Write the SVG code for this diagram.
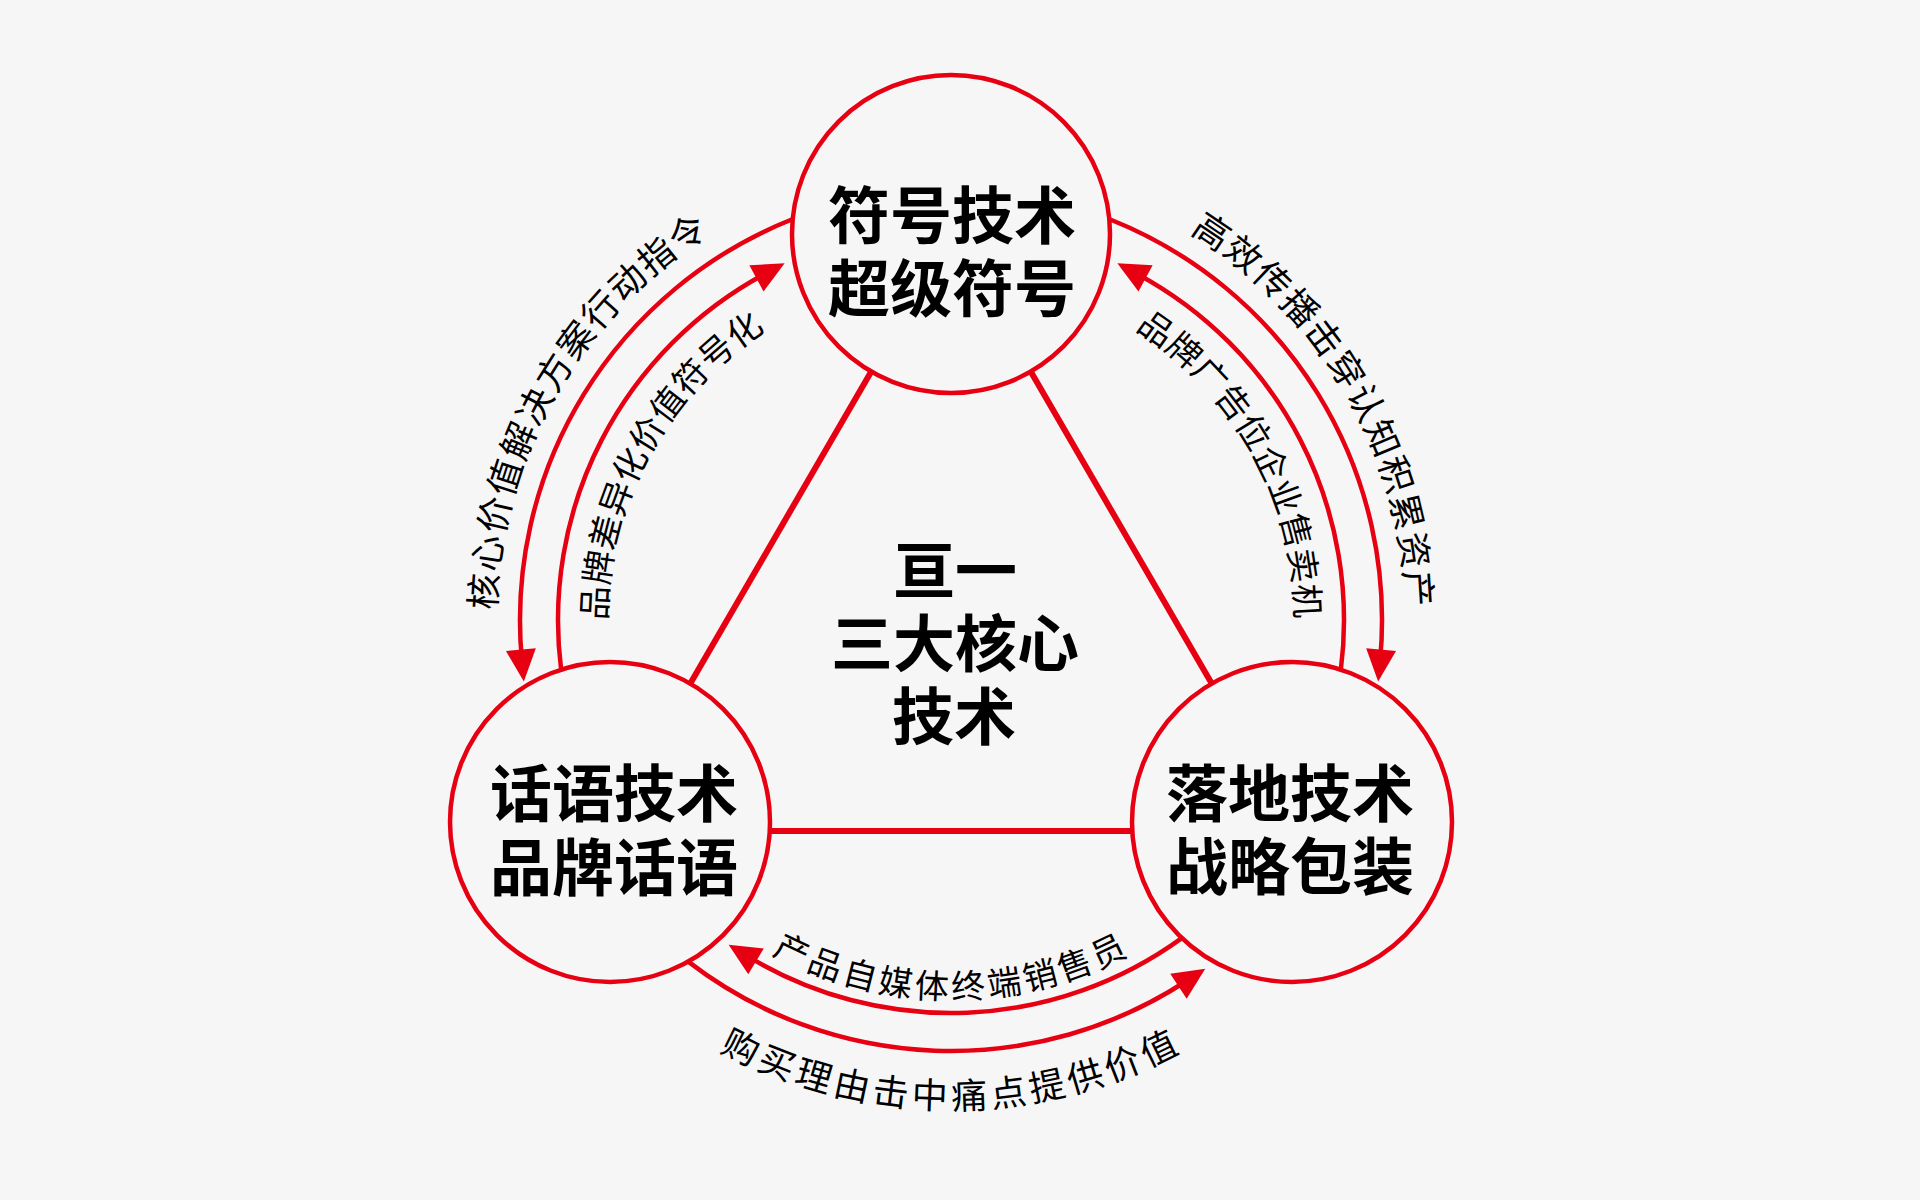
<svg xmlns="http://www.w3.org/2000/svg" width="1920" height="1200" viewBox="0 0 1920 1200">
<defs>
<style>
.bg{fill:#f7f6f7}
.node circle{fill:#f7f6f7;stroke:#e60012;stroke-width:4.5}
.title{font-family:"Noto Sans CJK SC","Noto Sans",sans-serif;font-weight:700;font-size:62px;fill:#000;text-anchor:middle;dominant-baseline:central}
.edge{fill:none;stroke:#e60012;stroke-width:6}
.arc{fill:none;stroke:#e60012;stroke-width:4.5;marker-end:url(#ah)}
.lbl{font-family:"Noto Sans CJK SC","Noto Sans",sans-serif;font-weight:400;fill:#000;dominant-baseline:central;text-anchor:middle}
.lo{font-size:36px;letter-spacing:3px}
.li{font-size:34px;letter-spacing:2px}
</style>
<marker id="ah" markerUnits="userSpaceOnUse" viewBox="0 0 32 30" markerWidth="32" markerHeight="30" refX="10" refY="15" orient="auto" overflow="visible">
<path d="M0,0 L32,15 L0,30 z" fill="#e60012"/>
</marker>
<path id="tOL" d="M496.48,743.49 A471,471 0 0 1 827.51,165.48"/>
<path id="tOR" d="M1074.49,165.48 A471,471 0 0 1 1405.52,743.49"/>
<path id="tIL" d="M606.26,720.16 A359,359 0 0 1 850.84,275.26"/>
<path id="tIR" d="M1051.16,275.26 A359,359 0 0 1 1295.74,720.16"/>
<path id="tIB" d="M693.61,877.39 A364,364 0 0 0 1208.39,877.39"/>
<path id="tOB" d="M616.54,954.46 A473,473 0 0 0 1285.46,954.46"/>
</defs>
<rect class="bg" x="0" y="0" width="1920" height="1200"/>

<g id="connectors">
<line class="edge" x1="870.7" y1="372.4" x2="690.3" y2="683.6"/>
<line class="edge" x1="1031.3" y1="372.4" x2="1211.7" y2="683.6"/>
<line class="edge" x1="768" y1="831" x2="1134" y2="831"/>
<path id="arc-outer-left" class="arc" d="M791.77,219.49 A431,431 0 0 0 521.82,659.63"/>
<path id="arc-inner-left" class="arc" d="M561.13,669.53 A393,393 0 0 1 765.26,273.66"/>
<path id="arc-outer-right" class="arc" d="M1110.23,219.49 A431,431 0 0 1 1380.18,659.63"/>
<path id="arc-inner-right" class="arc" d="M1340.87,669.53 A393,393 0 0 0 1136.74,273.66"/>
<path id="arc-outer-bottom" class="arc" d="M688.24,961.64 A431,431 0 0 0 1186.84,980.75"/>
<path id="arc-inner-bottom" class="arc" d="M1181.78,938.11 A393,393 0 0 1 747.47,956.19"/>
</g>

<g id="edge-labels">
<text class="lbl lo"><textPath href="#tOL" startOffset="50%">核心价值解决方案行动指令</textPath></text>
<text class="lbl li"><textPath href="#tIL" startOffset="50%">品牌差异化价值符号化</textPath></text>
<text class="lbl lo"><textPath href="#tOR" startOffset="50%">高效传播击穿认知积累资产</textPath></text>
<text class="lbl li"><textPath href="#tIR" startOffset="50%">品牌广告位企业售卖机</textPath></text>
<text class="lbl li"><textPath href="#tIB" startOffset="50%">产品自媒体终端销售员</textPath></text>
<text class="lbl lo"><textPath href="#tOB" startOffset="50%">购买理由击中痛点提供价值</textPath></text>
</g>

<g id="node-symbol" class="node">
<circle cx="951" cy="234" r="159"/>
<text class="title" x="952" y="212">符号技术</text>
<text class="title" x="952" y="285">超级符号</text>
</g>
<g id="node-speech" class="node">
<circle cx="610" cy="822" r="160"/>
<text class="title" x="614" y="790">话语技术</text>
<text class="title" x="614" y="864">品牌话语</text>
</g>
<g id="node-landing" class="node">
<circle cx="1292" cy="822" r="160"/>
<text class="title" x="1290" y="790">落地技术</text>
<text class="title" x="1290" y="863">战略包装</text>
</g>
<g id="center-title">
<text class="title" x="955" y="567">亘一</text>
<text class="title" x="955" y="640">三大核心</text>
<text class="title" x="954" y="713">技术</text>
</g>
</svg>
